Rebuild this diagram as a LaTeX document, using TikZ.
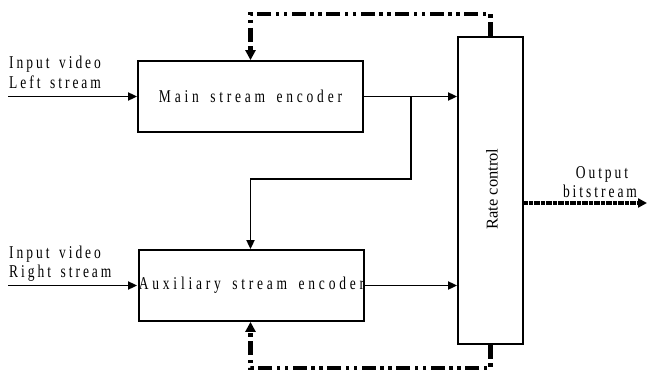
\documentclass[tikz,border=0pt]{standalone}
\usepackage{fontspec}
\usepackage{graphicx}
\setmainfont{Liberation Serif}
\newfontfamily\lspfont[LetterSpace=28,WordSpace=1.6]{Liberation Serif}
\newfontfamily\lblfont[LetterSpace=22,WordSpace=1.5]{Liberation Serif}
\usetikzlibrary{arrows.meta}
\newcommand\lsp[1]{\scalebox{0.75}[1]{\lspfont #1}}
\newcommand\lbl[1]{\scalebox{0.75}[1]{\lblfont #1}}
\begin{document}
\begin{tikzpicture}[x=1pt,y=-1pt,
  box/.style={draw, line width=1.8pt, minimum width=225pt, minimum height=71pt, inner sep=0pt},
  ratebox/.style={draw, line width=1.8pt, minimum width=65pt, minimum height=307pt, inner sep=0pt},
  txt/.style={font=\fontsize{18}{21}\selectfont, inner sep=0pt},
  arr/.style={line width=1.8pt, -{Triangle[length=9pt,width=8pt]}},
  fb/.style={line width=4.2pt, dash pattern=on 14pt off 4.5pt on 3.5pt off 4.5pt on 3.5pt off 4.5pt},
  fbarr/.style={fb, -{Triangle[length=10pt,width=10pt]}},
  outarr/.style={line width=3.4pt, dash pattern=on 2pt off 0.4pt, -{Triangle[length=9pt,width=9pt]}}
]
\useasboundingbox (0,0) rectangle (648,375);

% boxes
\node[box, txt] (main) at (250.5,96.5) {\lsp{Main stream encoder}};
\node[box, txt] (aux) at (251.5,285.5) {\lsp{Auxiliary stream encoder}};
\node[ratebox] (rate) at (490.5,190.5) {};
\node[font=\fontsize{16.5}{19}\selectfont, inner sep=0pt, rotate=90] (ratelbl) at (492,189) {Rate control};

% labels
\node[txt, anchor=base west] (inL1) at (9,68) {\lbl{Input video}};
\node[txt, anchor=base west] (inL2) at (9,88) {\lbl{Left stream}};
\node[txt, anchor=base west] (inR1) at (9,258) {\lbl{Input video}};
\node[txt, anchor=base west] (inR2) at (9,277) {\lbl{Right stream}};
\node[txt, anchor=base] (out1) at (602,178) {\lbl{Output}};
\node[txt, anchor=base] (out2) at (600,197) {\lbl{bitstream}};

% coordinates
\coordinate (inL) at (8,96.5);
\coordinate (inR) at (8,285.5);
\coordinate (br) at (411,96.5);
\coordinate (brturn) at (411,179);
\coordinate (outend) at (647,203);
\coordinate (fbtop) at (490.5,14);
\coordinate (fbbot) at (490.5,368);

% solid connectors
\draw[arr] (inL) -- (main.west);
\draw[arr] (inR) -- (main.west |- aux.west);
\draw[arr] (main.east) -- (main.east -| rate.west);
\draw[arr] (main.east |- aux.east) -- (aux.east -| rate.west);
\draw[arr] (br) -- (brturn) -| (main.north |- aux.north);

% output
\draw[outarr] (rate.east |- outend) -- (outend);

% feedback
\draw[fbarr] (rate.north) -- (fbtop) -| (main.north);
\draw[fbarr] (rate.south) -- (fbbot) -| (main.south |- aux.south);
\end{tikzpicture}
\end{document}
